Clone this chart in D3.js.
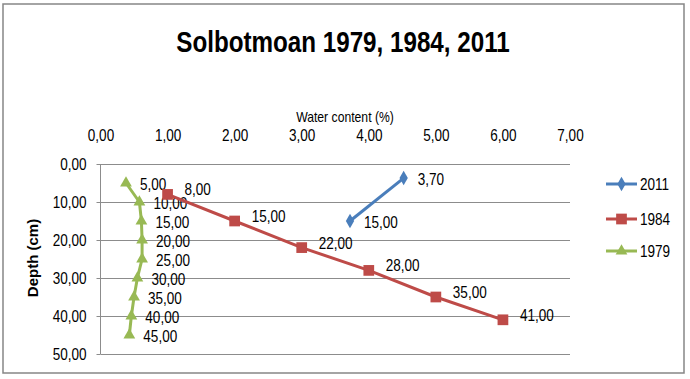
<!DOCTYPE html>
<html><head><meta charset="utf-8">
<script src="https://cdn.jsdelivr.net/npm/d3@7"></script>
<style>
body{margin:0;background:#fff;}
svg{display:block;}
text{fill:#000;}
</style></head>
<body>
<svg id="chart" width="690" height="379"></svg>
<script>
// ---- data ----
const seriesNames = ["2011", "1984", "1979"];
const water2011 = [4.52, 3.72];
const depth2011 = [3.7, 15];
const water1984 = [1.0, 2.0, 3.0, 4.0, 5.0, 6.0];
const depth1984 = [8, 15, 22, 28, 35, 41];
const water1979 = [0.38, 0.58, 0.61, 0.62, 0.62, 0.55, 0.50, 0.46, 0.43];
const depth1979 = [5, 10, 15, 20, 25, 30, 35, 40, 45];
const xTicks = [0, 1, 2, 3, 4, 5, 6, 7];
const yTicks = [0, 10, 20, 30, 40, 50];
const titleText = "Solbotmoan 1979, 1984, 2011";
const xTitle = "Water content (%)";
const yTitle = "Depth (cm)";

const series = [
  {name: seriesNames[0], water: water2011, depth: depth2011, color: "#4A7EBB", symbol: d3.symbolDiamond, size: 60, labelDx: 14, labelDy: 1},
  {name: seriesNames[1], water: water1984, depth: depth1984, color: "#BE4B48", symbol: d3.symbolSquare, size: 115, labelDx: 17, labelDy: -5},
  {name: seriesNames[2], water: water1979, depth: depth1979, color: "#98B954", symbol: d3.symbolTriangle, size: 60, labelDx: 14, labelDy: 1}
];

const fmt = d => d.toFixed(2).replace(".", ",");
const sans = "'Liberation Sans', Arial, sans-serif";

// condense text horizontally (narrow look)
function condense(sel, factor) {
  sel.each(function() {
    const len = this.getComputedTextLength();
    d3.select(this).attr("textLength", len * factor).attr("lengthAdjust", "spacingAndGlyphs");
  });
}

const svg = d3.select("#chart");

// outer border
svg.append("rect").attr("x", 3).attr("y", 4).attr("width", 681).attr("height", 369)
  .attr("fill", "#fff").attr("stroke", "#868686").attr("stroke-width", 1.5);

const x = d3.scaleLinear().domain([0, 7]).range([100.5, 570]);
const y = d3.scaleLinear().domain([0, 50]).range([164, 354]);

// gridlines
svg.append("g").selectAll("line").data(yTicks).join("line")
  .attr("x1", x(0)).attr("x2", x(7))
  .attr("y1", d => Math.round(y(d)) + 0.5).attr("y2", d => Math.round(y(d)) + 0.5)
  .attr("stroke", "#8C8C8C").attr("stroke-width", 1);

// left axis line
svg.append("line").attr("x1", 100.5).attr("x2", 100.5).attr("y1", y(0)).attr("y2", y(50))
  .attr("stroke", "#8C8C8C").attr("stroke-width", 1);

// top axis
const gx = svg.append("g").attr("transform", `translate(0,${y(0)})`)
  .call(d3.axisTop(x).tickValues(xTicks).tickFormat(fmt).tickSize(0).tickPadding(23));
gx.select(".domain").remove();
gx.selectAll("text").attr("font-family", sans).attr("font-size", 16.5).attr("fill", "#000").call(condense, 0.82);

// left axis
const gy = svg.append("g").attr("transform", `translate(${x(0)},0)`)
  .call(d3.axisLeft(y).tickValues(yTicks).tickFormat(fmt).tickSize(4).tickSizeOuter(0).tickPadding(10));
gy.select(".domain").remove();
gy.selectAll("line").attr("stroke", "#8C8C8C");
gy.selectAll("text").attr("font-family", sans).attr("font-size", 16.5).attr("fill", "#000").call(condense, 0.82);

// titles
svg.append("text").attr("x", 343).attr("y", 52).attr("text-anchor", "middle")
  .attr("font-family", sans).attr("font-weight", "bold").attr("font-size", 29.5).text(titleText)
  .call(condense, 0.82);
svg.append("text").attr("x", 345).attr("y", 122).attr("text-anchor", "middle")
  .attr("font-family", sans).attr("font-size", 14.5).text(xTitle).call(condense, 0.84);
svg.append("text").attr("transform", "translate(38,258) rotate(-90)").attr("text-anchor", "middle")
  .attr("font-family", sans).attr("font-weight", "bold").attr("font-size", 15).text(yTitle);

// series
const line = d3.line().x(d => x(d[0])).y(d => y(d[1]));
series.slice().reverse().forEach(s => {
  const pts = s.water.map((w, i) => [w, s.depth[i]]);
  const g = svg.append("g");
  g.append("path").datum(pts).attr("d", line).attr("fill", "none")
    .attr("stroke", s.color).attr("stroke-width", 3).attr("stroke-linejoin", "round");
  g.selectAll("path.m").data(pts).join("path").attr("class", "m")
    .attr("d", d3.symbol().type(s.symbol).size(s.size))
    .attr("transform", d => `translate(${x(d[0])},${y(d[1])})`)
    .attr("fill", s.color);
  g.selectAll("text").data(pts).join("text")
    .attr("x", d => x(d[0]) + s.labelDx).attr("y", d => y(d[1]) + s.labelDy)
    .attr("dominant-baseline", "central")
    .attr("font-family", sans).attr("font-size", 16.5).text(d => fmt(d[1]))
    .call(condense, 0.82);
});

// legend
const legY = [184, 219, 251];
series.forEach((s, i) => {
  const g = svg.append("g").attr("transform", `translate(606,${legY[i]})`);
  g.append("line").attr("x1", 0).attr("x2", 31).attr("y1", 0).attr("y2", 0)
    .attr("stroke", s.color).attr("stroke-width", 3);
  g.append("path").attr("d", d3.symbol().type(s.symbol).size(s.size))
    .attr("transform", "translate(15.5,0)").attr("fill", s.color);
  g.append("text").attr("x", 34).attr("y", 0).attr("dominant-baseline", "central")
    .attr("font-family", sans).attr("font-size", 16.5).text(s.name).call(condense, 0.82);
});
</script>
</body></html>
